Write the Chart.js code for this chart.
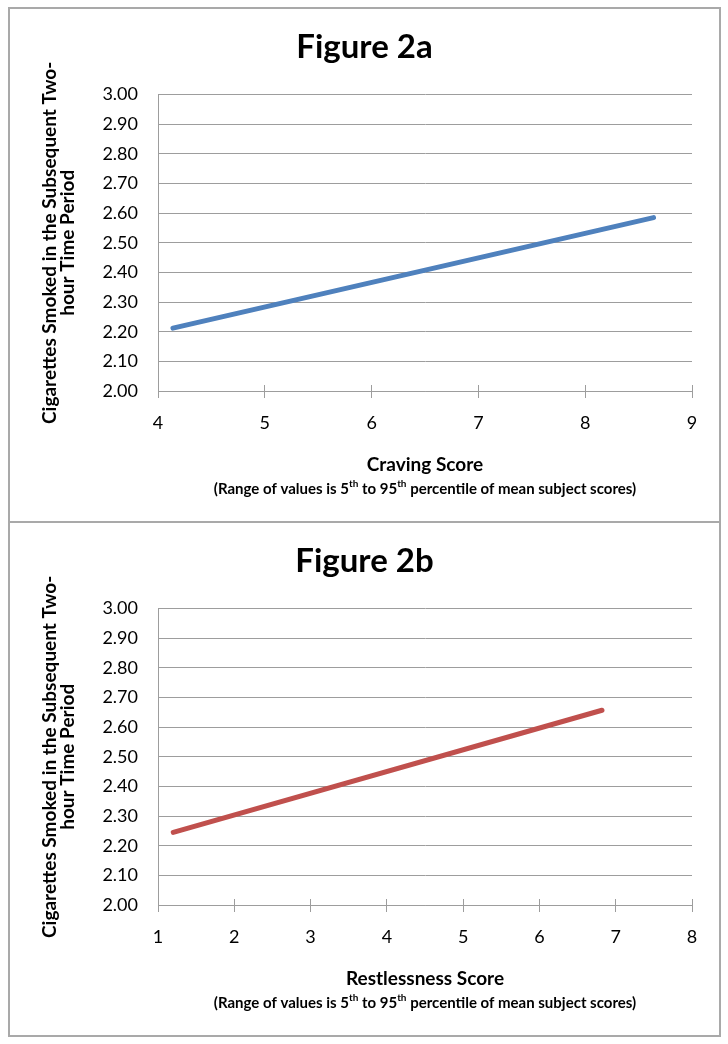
<!DOCTYPE html>
<html>
<head>
<meta charset="utf-8">
<script src="https://cdn.jsdelivr.net/npm/chart.js@4"></script>
<style>
    body { margin: 0; background: #fff; }
    #frame {
        position: absolute;
        left: 8px;
        top: 7px;
        width: 709px;
        border: 2px solid #a9a9a9;
    }
    .panel { height: 512px; }
    .panel.first { border-bottom: 2px solid #a9a9a9; }
    canvas { display: block; }
</style>
</head>
<body>
<div id="frame">
    <div class="panel first"><canvas id="chartA" width="709" height="512"></canvas></div>
    <div class="panel"><canvas id="chartB" width="709" height="512"></canvas></div>
</div>
<script>
// Figure 2a: craving score vs cigarettes smoked
const cravingScores = [4.14, 8.64];
const cigarettesA = [2.212, 2.585];
const cravingRange = [4, 9];

// Figure 2b: restlessness score vs cigarettes smoked
const restlessScores = [1.2, 6.82];
const cigarettesB = [2.245, 2.657];
const restlessRange = [1, 8];

// shared y axis
const yRange = [2, 3];
const yStep = 0.1;

const yTitle = ['Cigarettes Smoked in the Subsequent Two-', 'hour Time Period'];
// alternating normal / superscript pieces
const noteParts = ['(Range of values is 5', 'th', ' to 95', 'th', ' percentile of mean subject scores)'];

const gridColor = '#9d9d9d';
const fontFamily = 'Lato, "Open Sans", sans-serif';

const extrasPlugin = {
    id: 'extras',
    afterDraw(chart) {
        const ctx = chart.ctx;
        const xs = chart.scales.x;
        const area = chart.chartArea;

        // tick marks cross the axis, draw the inner half
        ctx.save();
        ctx.strokeStyle = gridColor;
        ctx.lineWidth = 1;
        xs.ticks.forEach((t, i) => {
            const px = Math.round(xs.getPixelForTick(i) - 0.5) + 0.5;
            ctx.beginPath();
            ctx.moveTo(px, area.bottom - 6);
            ctx.lineTo(px, area.bottom);
            ctx.stroke();
        });

        // note under the axis title, with superscripts
        const normalFont = 'bold 15px ' + fontFamily;
        const supFont = 'bold 10px ' + fontFamily;
        let total = 0;
        noteParts.forEach((p, i) => {
            ctx.font = i % 2 ? supFont : normalFont;
            total += ctx.measureText(p).width;
        });
        let x = (area.left + area.right) / 2 - total / 2;
        const y = area.bottom + 98;
        ctx.fillStyle = '#000';
        ctx.textBaseline = 'middle';
        ctx.textAlign = 'left';
        noteParts.forEach((p, i) => {
            ctx.font = i % 2 ? supFont : normalFont;
            ctx.fillText(p, x, i % 2 ? y - 5 : y);
            x += ctx.measureText(p).width;
        });
        ctx.restore();
    }
};

function makeChart(id, title, xLabel, xs, ys, xRange, color) {
    const points = xs.map((x, i) => ({ x: x, y: ys[i] }));
    return new Chart(document.getElementById(id), {
        type: 'scatter',
        data: {
            datasets: [{
                data: points,
                showLine: true,
                borderColor: color,
                backgroundColor: color,
                borderWidth: 5,
                borderCapStyle: 'round',
                pointRadius: 0
            }]
        },
        plugins: [extrasPlugin],
        options: {
            responsive: false,
            animation: false,
            devicePixelRatio: 1,
            layout: { padding: { left: 27, right: 27, top: 0, bottom: 0 } },
            plugins: {
                legend: { display: false },
                tooltip: { enabled: false },
                title: {
                    display: true,
                    text: title,
                    color: '#000',
                    font: { family: fontFamily, size: 33, weight: 'bold', lineHeight: 1.2 },
                    padding: { top: 19, bottom: 27 }
                }
            },
            scales: {
                x: {
                    type: 'linear',
                    min: xRange[0],
                    max: xRange[1],
                    afterFit: (scale) => { scale.height = 130; },
                    ticks: {
                        stepSize: 1,
                        color: '#000',
                        padding: 14,
                        maxRotation: 0,
                        font: { family: fontFamily, size: 18 }
                    },
                    grid: {
                        drawOnChartArea: false,
                        drawTicks: true,
                        tickLength: 7,
                        color: gridColor
                    },
                    border: { display: true, color: gridColor },
                    title: {
                        display: true,
                        text: xLabel,
                        color: '#000',
                        font: { family: fontFamily, size: 19, weight: 'bold', lineHeight: 1.2 },
                        padding: { top: 20, bottom: 45 }
                    }
                },
                y: {
                    min: yRange[0],
                    max: yRange[1],
                    afterFit: (scale) => { scale.width = 121; },
                    ticks: {
                        stepSize: yStep,
                        color: '#000',
                        padding: 20,
                        font: { family: fontFamily, size: 18 },
                        callback: (v) => v.toFixed(2)
                    },
                    grid: {
                        drawTicks: false,
                        color: gridColor
                    },
                    border: { display: true, color: gridColor },
                    title: {
                        display: true,
                        text: yTitle,
                        color: '#000',
                        font: { family: fontFamily, size: 19, weight: 'bold', lineHeight: 0.95 },
                        padding: { top: 4, bottom: 0 }
                    }
                }
            }
        }
    });
}

makeChart('chartA', 'Figure 2a', 'Craving Score', cravingScores, cigarettesA, cravingRange, '#4f81bd');
makeChart('chartB', 'Figure 2b', 'Restlessness Score', restlessScores, cigarettesB, restlessRange, '#c0504d');
</script>
</body>
</html>
